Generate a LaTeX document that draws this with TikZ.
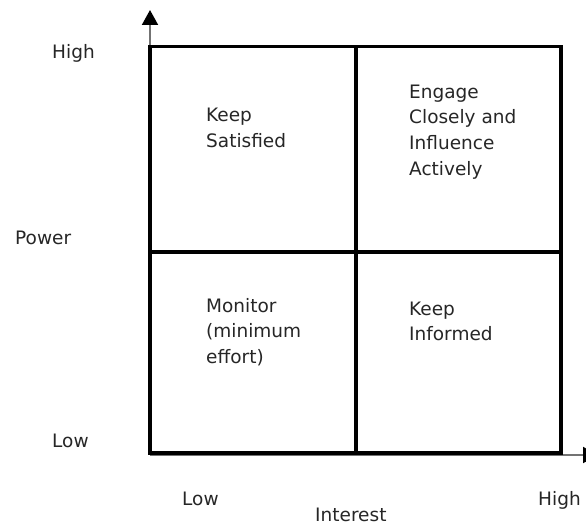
\documentclass[tikz,border=0pt]{standalone}
\usepackage{fontspec}
\setmainfont{DejaVu Sans}
\usetikzlibrary{arrows.meta}
\tikzset{
  axisline/.style={draw=black!55, line width=2pt, -{Triangle[length=15pt,width=16pt,fill=black,color=black]}},
  boxline/.style={draw=black, line width=3.2pt},
  lbl/.style={anchor=base west, inner sep=0pt, text=black!85, font={\fontsize{18.5}{25.7}\selectfont}},
  quad/.style={lbl, align=left}
}
\begin{document}
\begin{tikzpicture}[x=1pt,y=-1pt]
\useasboundingbox (0,0) rectangle (586,524);
\coordinate (tl) at (150,46.5);
\coordinate (tr) at (561,46.5);
\coordinate (bl) at (150,453);
\coordinate (br) at (561,453);
\coordinate (tm) at (356,46.5);
\coordinate (bm) at (356,453);
\coordinate (lm) at (150,252);
\coordinate (rm) at (561,252);
\coordinate (ytip) at (150,10);
\coordinate (xtip) at (598,455);
\draw[axisline] (bl) -- (ytip);
\draw[axisline] (150,455) -- (xtip);
\draw[boxline] (tl) rectangle (br);
\draw[boxline] (tm) -- (bm);
\draw[boxline] (lm) -- (rm);
\node[lbl] (hiy) at (52,59) {High};
\node[lbl] (pow) at (15,244) {Power};
\node[lbl] (loy) at (52,447) {Low};
\node[lbl] (lox) at (182,505) {Low};
\node[lbl] (int) at (315,521) {Interest};
\node[lbl] (hix) at (538,505) {High};
\node[quad] (ks) at (206,147.7) {Keep\\Satisfied};
\node[quad] (ec) at (409,175.1) {Engage\\Closely and\\Influence\\Actively};
\node[quad] (mo) at (206,363.4) {Monitor\\(minimum\\effort)};
\node[quad] (ki) at (409,340.7) {Keep\\Informed};
\end{tikzpicture}
\end{document}
